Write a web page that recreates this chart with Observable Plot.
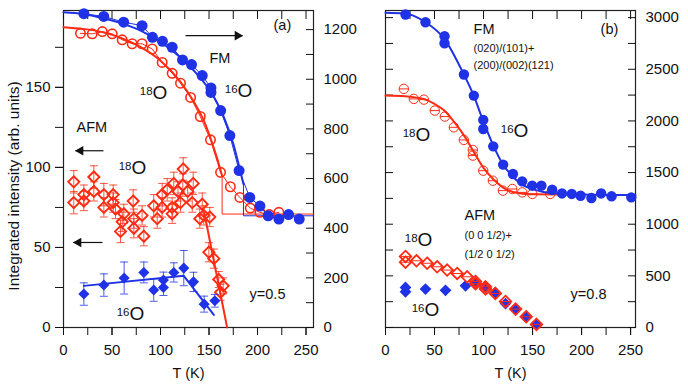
<!DOCTYPE html>
<html><head><meta charset="utf-8">
<script src="https://cdn.jsdelivr.net/npm/d3@7"></script>
<script src="https://cdn.jsdelivr.net/npm/@observablehq/plot@0.6"></script>
<style>
html,body{margin:0;padding:0;background:#fff;}
#chart{display:flex;width:688px;height:387px;}
#chart svg{overflow:visible;flex:none;}
</style></head><body><div id="chart"></div>
<script>
// ---------- tick labels ----------
const xTickLabels = [0, 50, 100, 150, 200, 250];
const aLeftTickLabels = [0, 50, 100, 150];
const aRightTickLabels = [0, 200, 400, 600, 800, 1000, 1200];
const bRightTickLabels = [0, 500, 1000, 1500, 2000, 2500, 3000];

// ---------- panel (a), y = 0.5 ----------
// FM (right axis)
const aFM16_T = [21, 41.5, 62, 81, 91.7, 102, 112, 122.7, 132, 143, 152, 152, 162, 171.5, 181, 192, 202.5, 211, 222, 232, 243];
const aFM16_I = [1264, 1253, 1230, 1216, 1169, 1153, 1129, 1078, 1059, 1015, 965, 947, 874, 773, 632, 524, 489, 450, 437, 455, 437];
const aFM18_T = [17.5, 29.6, 40, 50.2, 60.5, 70.8, 81, 91.4, 101.7, 112, 120.6, 131, 141, 151.5, 161.9, 172, 181.8, 192.5, 202.5, 212, 222];
const aFM18_I = [1185, 1183, 1192, 1183, 1159, 1143, 1143, 1122, 1068, 1024, 984, 927, 850, 756, 625, 567, 524, 481, 464, 455, 464];
const aFit16_T = [0, 20, 40, 60, 80, 100, 120, 140, 155, 165, 175, 181, 185.5];
const aFit16_I = [1270, 1263, 1247, 1225, 1195, 1150, 1090, 1010, 930, 850, 740, 650, 578];
const aStep16_T = [185.5, 185.5, 257.7];
const aStep16_I = [578, 450, 450];
const aFit18_T = [0, 20, 40, 60, 80, 100, 120, 135, 145, 155, 160, 163.5];
const aFit18_I = [1210, 1203, 1190, 1165, 1128, 1075, 993, 905, 830, 722, 660, 610];
const aStep18_T = [163.5, 163.5, 257.7];
const aStep18_I = [610, 457, 457];
// AFM (left axis)
const aAFM18_T = [10.6, 10.6, 21, 21, 31.3, 31.3, 41.6, 41.6, 51.2, 51.2, 53.6, 62.2, 60.5, 58.8, 71.8, 72.5, 72.5, 81, 82.8, 93, 96.6, 101.7, 101.7, 106.9, 112, 112, 113.7, 118, 123.4, 123, 128, 133.7, 120.6, 132.7, 143, 140.5, 144.6, 150.8, 149.8, 155, 160, 164.6, 161.9];
const aAFM18_L = [91, 78, 83, 79, 94, 85, 83, 75, 83, 78, 74, 71, 66, 60, 79, 68, 62, 70, 57, 76, 68, 83, 75, 86, 75, 71, 90, 85, 99, 89, 85, 90, 78, 78, 77, 68, 70, 69, 47, 43, 30, 26, 22];
const aAFM18_E = [7, 7, 6, 6, 7, 6, 7, 6, 6, 6, 6, 6, 6, 7, 7, 6, 6, 6, 6, 7, 6, 7, 6, 7, 6, 6, 7, 6, 7, 7, 6, 7, 6, 6, 7, 6, 6, 6, 6, 6, 5, 5, 5];
const aAFM16_T = [21, 41.6, 62.5, 82.8, 93, 103, 103, 113.7, 124, 134, 145, 156];
const aAFM16_L = [20.9, 26.5, 30.9, 34.4, 23.4, 29.6, 25, 34.4, 37.1, 28.5, 14.6, 16.7];
const aAFM16_E = [7, 7, 10, 6.5, 7, 5, 5, 6, 11, 6, 5, 4];
const aAFM16fit_T = [21, 124, 155];
const aAFM16fit_L = [26, 32.3, 7.9];
const aAFM18fit_T = [145, 168.7];
const aAFM18fit_L = [72, 0];

// ---------- panel (b), y = 0.8 (right axis) ----------
const bFM16_T = [20.4, 40.8, 60.2, 60.2, 80, 90.1, 99.7, 99.7, 109.9, 120, 130, 139.4, 149.6, 159, 170, 180, 190, 199, 210, 220, 230.6, 250.7];
const bFM16_I = [3030, 2955, 2820, 2752, 2449, 2245, 2010, 1922, 1754, 1577, 1486, 1415, 1373, 1373, 1334, 1298, 1293, 1276, 1254, 1298, 1270, 1260];
const bFM18_T = [18.7, 28.9, 39.1, 50.3, 60.5, 69.7, 79.9, 89.1, 89.1, 99.7, 109.5, 119.7, 129.3, 139.5, 149.7, 168];
const bFM18_I = [2310, 2213, 2206, 2100, 2042, 1938, 1816, 1719, 1664, 1518, 1421, 1325, 1341, 1308, 1293, 1293];
const bFit16_T = [0, 20, 40, 60, 80, 90, 100, 110, 120, 130, 140, 150, 160, 175, 200, 255];
const bFit16_I = [3047, 3040, 2960, 2795, 2449, 2245, 1990, 1761, 1575, 1460, 1380, 1340, 1315, 1298, 1288, 1282];
const bFit18_T = [0, 20, 30, 40, 50, 60, 70, 80, 90, 100, 110, 120, 130, 140, 150, 175];
const bFit18_I = [2245, 2238, 2228, 2210, 2165, 2100, 1990, 1860, 1700, 1545, 1435, 1355, 1312, 1296, 1290, 1288];
const bAFM16_T = [20.4, 20.4, 40.8, 61.2, 81.6, 91.8, 102, 112, 122.4, 132.7, 143.5, 154];
const bAFM16_I = [388, 345, 372, 360, 404, 425, 392, 338, 232, 178, 104, 30];
const bAFM18_T = [20.4, 20.4, 31.6, 42.5, 52.7, 62.9, 73.1, 83.3, 91.8, 91.8, 102, 102, 112, 122.4, 132.7, 143.5, 154];
const bAFM18_I = [688, 632, 646, 622, 588, 556, 523, 491, 446, 424, 394, 372, 330, 252, 178, 104, 30];

// ---------- annotation anchors (data coordinates) ----------
const aIso = [{T: 179.4, v: 143.75, m: "16"}, {T: 91.8, v: 142.75, m: "18"}, {T: 70.1, v: 95.9, m: "18"}, {T: 68, v: 4.6, m: "16"}];
const bIso = [{T: 130.6, v: 1848, m: "16"}, {T: 30.6, v: 1809, m: "18"}, {T: 32.7, v: 792, m: "18"}, {T: 39.8, v: 113, m: "16"}];
const aLabels = [{T: 13.4, v: 125, t: "AFM"}, {T: 150.5, v: 168, t: "FM"}, {T: 216.5, v: 188.6, t: "(a)"}, {T: 191.8, v: 20.9, t: "y=0.5"}];
const bLabels = [{T: 89.8, v: 2891, t: "FM"}, {T: 219.4, v: 2891, t: "(b)"}, {T: 80.6, v: 1082, t: "AFM"}, {T: 188.8, v: 324, t: "y=0.8"}];
const bSmall = [{T: 89.8, v: 2700, t: "(020)/(101)+"}, {T: 89.8, v: 2535, t: "(200)/(002)(121)"}, {T: 80.6, v: 888, t: "(0 0 1/2)+"}, {T: 80.6, v: 711, t: "(1/2 0 1/2)"}];
const aArrows = [{x1: 125.8, x2: 184.5, v: 182.3, dir: 1}, {x1: 41.2, x2: 12.4, v: 110.4, dir: -1}, {x1: 40.2, x2: 10.3, v: 53.1, dir: -1}];

// ---------- helpers ----------
const RED = "#ff2b14", BLUE = "#1f32e6";
const zip = (T, V, E) => T.map((t, i) => ({T: t, v: V[i], e: E ? E[i] : 0}));
const aMax = 198, aRightMax = 1277, k = aRightMax / aMax; // right-axis units per left-axis unit
const toLeft = (T, I) => T.map((t, i) => ({T: t, v: I[i] / k}));
const hline = {draw(ctx, size) { const r = Math.sqrt(size / Math.PI); ctx.moveTo(-r, 0); ctx.lineTo(r, 0); }};
const font = "'Liberation Sans', Arial, Helvetica, sans-serif";
const plain = d => String(Math.round(d));

function xAxes() {
  return [
    Plot.axisX(d3.range(0, 251, 25), {anchor: "bottom", tickSize: 8, fill: "none", label: null}),
    Plot.axisX(xTickLabels, {anchor: "bottom", tickSize: 8, tickPadding: 9, label: null, fontSize: 15, tickFormat: plain}),
    Plot.axisX(d3.range(0, 251, 25), {anchor: "top", tickSize: -8, fill: "none", label: null}),
    Plot.text(["T (K)"], {frameAnchor: "bottom", dy: 50, fontSize: 14.5, textAnchor: "middle"}),
  ];
}
function isoMarks(data) {
  return [
    Plot.text(data, {x: "T", y: "v", text: () => "O", textAnchor: "start", lineAnchor: "bottom", fontSize: 19}),
    Plot.text(data, {x: "T", y: "v", text: "m", textAnchor: "end", lineAnchor: "bottom", fontSize: 11.5, dy: -4}),
  ];
}
function errorBars(data, color) {
  return [
    Plot.ruleX(data, {x: "T", y1: d => d.v - d.e, y2: d => d.v + d.e, stroke: color, strokeWidth: 0.8}),
    Plot.dot(data, {x: "T", y: d => d.v - d.e, symbol: hline, r: 4, stroke: color, strokeWidth: 0.8}),
    Plot.dot(data, {x: "T", y: d => d.v + d.e, symbol: hline, r: 4, stroke: color, strokeWidth: 0.8}),
  ];
}

// ---------- panel (a) ----------
const aAFM18 = zip(aAFM18_T, aAFM18_L, aAFM18_E);
const aAFM16 = zip(aAFM16_T, aAFM16_L, aAFM16_E);

const plotA = Plot.plot({
  width: 350, height: 387,
  marginLeft: 63, marginRight: 37, marginTop: 10, marginBottom: 60,
  style: {fontFamily: font, fontSize: "15px", background: "transparent", color: "#111", overflow: "visible"},
  x: {domain: [0, 257.7]},
  y: {domain: [0, aMax]},
  marks: [
    Plot.frame({stroke: "#222", strokeWidth: 1.2}),
    ...xAxes(),
    Plot.axisY(d3.range(0, 176, 25), {anchor: "left", tickSize: 8, fill: "none", label: null}),
    Plot.axisY(aLeftTickLabels, {anchor: "left", tickSize: 8, tickPadding: 5, label: null, fontSize: 15, tickFormat: plain}),
    Plot.axisY(d3.range(0, 1201, 100).map(v => v / k), {anchor: "right", tickSize: -8, fill: "none", label: null}),
    Plot.axisY(aRightTickLabels.map(v => v / k), {anchor: "right", tickSize: 0, tickPadding: 10, label: null, fontSize: 15, tickFormat: d => plain(d * k)}),
    Plot.text(["Integrated intensity (arb. units)"], {frameAnchor: "left", dx: -49, dy: 17, rotate: -90, fontSize: 15.5, textAnchor: "middle", lineAnchor: "middle"}),
    // FM fits and data
    Plot.line(toLeft(aStep18_T, aStep18_I), {x: "T", y: "v", stroke: RED, strokeWidth: 1}),
    Plot.line(toLeft(aStep16_T, aStep16_I), {x: "T", y: "v", stroke: BLUE, strokeWidth: 1}),
    Plot.line(toLeft(aFit18_T, aFit18_I), {x: "T", y: "v", stroke: RED, strokeWidth: 2, curve: "monotone-x"}),
    Plot.line(toLeft(aFM18_T, aFM18_I), {x: "T", y: "v", stroke: RED, strokeWidth: 1}),
    Plot.dot(toLeft(aFM18_T, aFM18_I), {x: "T", y: "v", r: 4.7, stroke: RED, strokeWidth: 1.6, fill: "none"}),
    Plot.line(toLeft(aFit16_T, aFit16_I), {x: "T", y: "v", stroke: BLUE, strokeWidth: 2, curve: "monotone-x"}),
    Plot.line(toLeft(aFM16_T, aFM16_I), {x: "T", y: "v", stroke: BLUE, strokeWidth: 1}),
    Plot.dot(toLeft(aFM16_T, aFM16_I), {x: "T", y: "v", r: 5.5, fill: BLUE}),
    // AFM
    ...errorBars(aAFM18, RED),
    Plot.line(zip(aAFM18fit_T, aAFM18fit_L), {x: "T", y: "v", stroke: RED, strokeWidth: 2}),
    Plot.dot(aAFM18, {x: "T", y: "v", symbol: "diamond2", r: 5, stroke: RED, strokeWidth: 1.9, fill: "none"}),
    ...errorBars(aAFM16, BLUE),
    Plot.line(zip(aAFM16fit_T, aAFM16fit_L), {x: "T", y: "v", stroke: BLUE, strokeWidth: 2}),
    Plot.dot(aAFM16, {x: "T", y: "v", symbol: "diamond2", r: 5, fill: BLUE}),
    // annotations
    Plot.link(aArrows, {x1: "x1", x2: "x2", y1: "v", y2: "v", stroke: "#111", strokeWidth: 1.2}),
    Plot.dot(aArrows.filter(d => d.dir > 0), {x: "x2", y: "v", symbol: "triangle", r: 3.6, rotate: 90, fill: "#111", dx: -5}),
    Plot.dot(aArrows.filter(d => d.dir < 0), {x: "x2", y: "v", symbol: "triangle", r: 3.6, rotate: -90, fill: "#111", dx: 5}),
    Plot.text(aLabels, {x: "T", y: "v", text: "t", textAnchor: "start", fontSize: 14.5}),
    ...isoMarks(aIso),
  ]
});

// ---------- panel (b) ----------
const bAFM16 = zip(bAFM16_T, bAFM16_I);
const bAFM18 = zip(bAFM18_T, bAFM18_I);
const bFM18 = zip(bFM18_T, bFM18_I);

const plotB = Plot.plot({
  width: 338, height: 387,
  marginLeft: 35, marginRight: 53, marginTop: 10, marginBottom: 60,
  style: {fontFamily: font, fontSize: "15px", background: "transparent", color: "#111", overflow: "visible"},
  x: {domain: [0, 255]},
  y: {domain: [0, 3069]},
  marks: [
    Plot.frame({stroke: "#222", strokeWidth: 1.2}),
    ...xAxes(),
    Plot.axisY(d3.range(0, 3001, 250), {anchor: "left", tickSize: -8, fill: "none", label: null}),
    Plot.axisY(d3.range(0, 3001, 250), {anchor: "right", tickSize: -8, fill: "none", label: null}),
    Plot.axisY(bRightTickLabels, {anchor: "right", tickSize: 0, tickPadding: 10, label: null, fontSize: 15, tickFormat: plain}),
    // FM
    Plot.dot(bFM18, {x: "T", y: "v", r: 4.7, stroke: RED, strokeWidth: 1, fill: "none"}),
    Plot.dot(bFM18, {x: "T", y: "v", r: 4.7, symbol: hline, stroke: RED, strokeWidth: 1}),
    Plot.line(zip(bFit18_T, bFit18_I), {x: "T", y: "v", stroke: RED, strokeWidth: 2, curve: "monotone-x"}),
    Plot.line(zip(bFit16_T, bFit16_I), {x: "T", y: "v", stroke: BLUE, strokeWidth: 2, curve: "monotone-x"}),
    Plot.dot(zip(bFM16_T, bFM16_I), {x: "T", y: "v", r: 5.2, fill: BLUE}),
    // AFM
    Plot.dot(bAFM16, {x: "T", y: "v", symbol: "diamond2", r: 5.3, fill: BLUE}),
    Plot.dot(bAFM18, {x: "T", y: "v", symbol: "diamond2", r: 5.2, stroke: RED, strokeWidth: 1.8, fill: "none"}),
    Plot.dot(bAFM18, {x: "T", y: "v", symbol: hline, r: 5.5, stroke: RED, strokeWidth: 1}),
    // annotations
    Plot.text(bLabels, {x: "T", y: "v", text: "t", textAnchor: "start", fontSize: 14.5}),
    Plot.text(bSmall, {x: "T", y: "v", text: "t", textAnchor: "start", fontSize: 11}),
    ...isoMarks(bIso),
  ]
});

document.getElementById("chart").append(plotA, plotB);
</script></body></html>
